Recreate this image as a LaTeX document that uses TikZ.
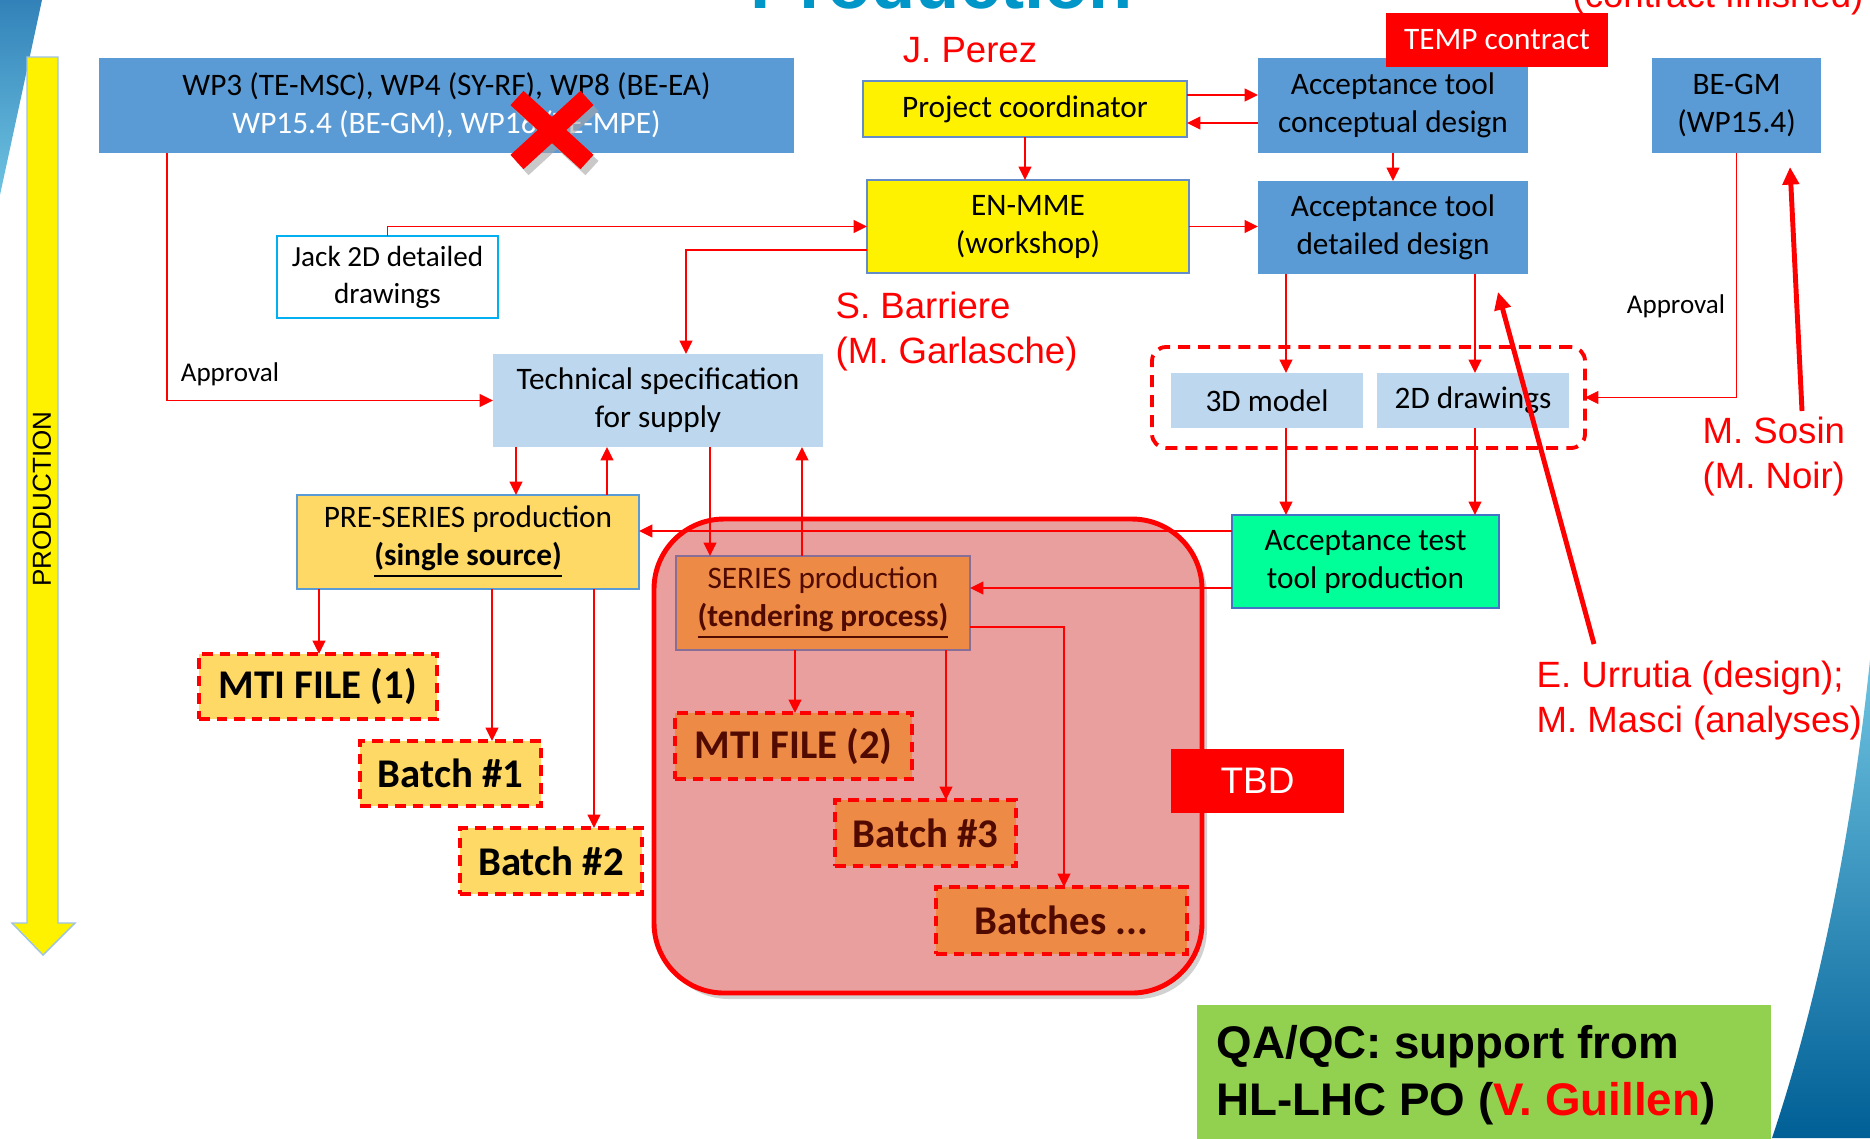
\documentclass[tikz,border=0pt]{standalone}
\usepackage{fontspec}
\setmainfont{Carlito}
\newfontfamily\arialf{Liberation Sans}
\usetikzlibrary{fit,arrows.meta}
\definecolor{cBlue}{RGB}{91,155,213}
\definecolor{cLight}{RGB}{189,215,238}
\definecolor{cYelB}{RGB}{100,140,200}
\definecolor{cPre}{RGB}{255,217,102}
\definecolor{cZone}{RGB}{234,159,159}
\definecolor{cOr}{RGB}{236,138,70}
\definecolor{cOrB}{RGB}{135,110,150}
\definecolor{cMaroon}{RGB}{80,10,0}
\definecolor{cGreen}{RGB}{0,255,153}
\definecolor{cGreenB}{RGB}{68,114,196}
\definecolor{cQA}{RGB}{146,208,80}
\definecolor{cJack}{RGB}{0,176,240}
\definecolor{cTitle}{RGB}{0,150,200}
\definecolor{cArrB}{RGB}{157,195,230}
\definecolor{cSwA}{RGB}{50,130,185}
\definecolor{cSwB}{RGB}{110,195,225}
\definecolor{cSwC}{RGB}{0,95,150}
\newcommand\bxf{\fontsize{8.9}{10.8}\selectfont}
\newcommand\bigf{\fontsize{11.6}{13}\selectfont\bfseries}
\newcommand\namef{\arialf\fontsize{10.4}{12.8}\selectfont}
% box node: [style]{name}{x1}{y1}{x2}{y2}{text}
\newcommand\bxn[7][]{%
  \pgfmathsetmacro\bxCX{(#3+#5)/2}%
  \pgfmathsetmacro\bxCY{(#4+#6)/2}%
  \pgfmathsetmacro\bxW{(#5-#3)*0.01}%
  \pgfmathsetmacro\bxH{(#6-#4)*0.01}%
  \node[#1, minimum width=\bxW cm, minimum height=\bxH cm] (#2) at (\bxCX,\bxCY) {#7};}
\begin{document}
\begin{tikzpicture}[x=0.01cm, y=-0.01cm,
  bx/.style={inner sep=0pt, outer sep=0pt, align=center, font=\bxf},
  bluebox/.style={bx, fill=cBlue},
  lightbox/.style={bx, fill=cLight},
  yelbox/.style={bx, fill=yellow, draw=cYelB, line width=0.6pt},
  prebox/.style={bx, fill=cPre, draw=cBlue, line width=0.6pt},
  serbox/.style={bx, fill=cOr, draw=cOrB, line width=0.6pt, text=cMaroon},
  greenbox/.style={bx, fill=cGreen, draw=cGreenB, line width=0.6pt},
  redbox/.style={bx, fill=red, text=white},
  dashbox/.style={inner sep=0pt, outer sep=0pt, align=center, font=\bigf, draw=red, line width=1.1pt, dash pattern=on 3pt off 2pt},
  conn/.style={draw=red, line width=0.55pt, -{Triangle[length=3.8pt,width=3.6pt]}},
  annot/.style={draw=red, line width=1.4pt, -{Triangle[length=5pt,width=4.6pt]}},
  lbl/.style={font=\fontsize{7.7}{9}\selectfont},
  redname/.style={font=\namef, text=red, align=left, inner sep=0pt},
]
\clip (0,0) rectangle (1870,1138);
\fill[white] (0,0) rectangle (1870,1138);

% slide decorations
\shade[top color=cSwA, bottom color=cSwB] (0,0) -- (42,0) -- (0,195) -- cycle;
\shade[top color=cSwB, bottom color=cSwC] (1870,660) .. controls (1850,850) and (1815,1010) .. (1772,1138) -- (1870,1138) -- cycle;
\node[anchor=base, font=\arialf\bfseries\fontsize{20.6}{24}\selectfont, text=cTitle, inner sep=0pt] (title) at (942,8) {Production};
\node[anchor=base, redname] (cfin) at (1718,7) {(contract finished)};

% production arrow
\draw[fill=yellow, draw=cArrB, line width=0.4pt] (27,57) -- (58,57) -- (58,923) -- (75,923) -- (43,955) -- (12,923) -- (27,923) -- cycle;
\node[rotate=90, font=\arialf\fontsize{7.4}{9}\selectfont] (prod) at (42,499) {PRODUCTION};

% TBD zone
\fill[black!40, opacity=0.45, rounded corners=0.7cm] (659,525) rectangle (1207,999);
\node[fit={(654,519) (1202,993)}, inner sep=0pt, outer sep=0pt, draw=red, line width=1.4pt, fill=cZone, rounded corners=0.7cm] (zone) {};

% boxes
\bxn[bluebox]{wp}{99}{58}{794}{153}{WP3 (TE-MSC), WP4 (SY-RF), WP8 (BE-EA)\\\textcolor{white}{WP15.4 (BE-GM), WP16 (TE-MPE)}}
\bxn[yelbox]{pc}{863}{81}{1187}{137}{Project coordinator}
\bxn[bluebox]{acd}{1258}{58}{1528}{153}{Acceptance tool\\conceptual design}
\bxn[redbox]{temp}{1386}{13}{1608}{67}{TEMP contract}
\bxn[bluebox]{begm}{1652}{58}{1821}{153}{BE-GM\\(WP15.4)}
\bxn[yelbox]{enmme}{867}{180}{1189}{273}{EN-MME\\(workshop)}
\bxn[bluebox]{add}{1258}{181}{1528}{274}{Acceptance tool\\detailed design}
\bxn[bx, fill=white, draw=cJack, line width=0.8pt, font=\fontsize{8.3}{10.5}\selectfont]{jack}{277}{236}{498}{318}{Jack 2D detailed\\drawings}
\bxn[lightbox]{tech}{493}{354}{823}{447}{Technical specification\\for supply}
\node[fit={(1152,347) (1585,448)}, inner sep=0pt, outer sep=0pt, draw=red, line width=1.1pt, dash pattern=on 3.4pt off 2.3pt, rounded corners=0.14cm] (grp) {};
\bxn[lightbox]{m3d}{1171}{373}{1363}{428}{3D model}
\bxn[lightbox]{d2d}{1377}{373}{1569}{428}{2D drawings}
\bxn[prebox]{pre}{297}{495}{639}{589}{PRE-SERIES production\\\underline{\textbf{(single source)}}}
\bxn[serbox]{ser}{676}{556}{970}{650}{SERIES production\\\underline{\textbf{(tendering process)}}}
\bxn[greenbox]{att}{1232}{515}{1499}{608}{Acceptance test\\tool production}
\bxn[redbox, font=\arialf\fontsize{10.5}{12}\selectfont]{tbd}{1171}{749}{1344}{813}{TBD}
\bxn[dashbox, fill=cPre]{mti1}{199}{654}{437}{719}{MTI FILE (1)}
\bxn[dashbox, fill=cPre]{b1}{360}{741}{541}{806}{Batch \#1}
\bxn[dashbox, fill=cPre]{b2}{460}{828}{642}{894}{Batch \#2}
\bxn[dashbox, fill=cOr, text=cMaroon]{mti2}{675}{713}{912}{779}{MTI FILE (2)}
\bxn[dashbox, fill=cOr, text=cMaroon]{b3}{835}{800}{1016}{866}{Batch \#3}
\bxn[dashbox, fill=cOr, text=cMaroon]{bs}{936}{887}{1187}{954}{Batches ...}
\node[fit={(1197,1005) (1771,1150)}, inner sep=0pt, fill=cQA] (qa) {};
\node[anchor=west, align=left, inner sep=0pt, font=\arialf\bfseries\fontsize{13}{16.2}\selectfont] (qatext) at (1216,1075) {QA/QC: support from\\HL-LHC PO (\textcolor{red}{V. Guillen})};

% labels
\node[lbl] (appl) at (230,374) {Approval};
\node[lbl] (appr) at (1676,306) {Approval};
\node[redname, anchor=center] (perez) at (970,50) {J. Perez};
\node[redname, anchor=west] (barriere) at (835,332) {S. Barriere\\(M. Garlasche)};
\node[redname, anchor=west] (sosin) at (1702,457) {M. Sosin\\(M. Noir)};
\node[redname, anchor=west] (urrutia) at (1536,701) {E. Urrutia (design);\\M. Masci (analyses)};

% helper coordinates
\foreach \xx in {167,319,492,516,594,607,686,710,795,802,946,1064,1286,1475}
  {\coordinate (X\xx) at (\xx,0);}
\foreach \yy in {95,123,250,531,588,627}
  {\coordinate (Y\yy) at (0,\yy);}

% connectors
\draw[conn] (X167 |- wp.south) |- (tech.west);
\draw[conn] (jack.north) |- (enmme.west);
\draw[conn] (enmme.west |- Y250) -| (X686 |- tech.north);
\draw[conn] (pc.south) -- (pc.south |- enmme.north);
\draw[conn] (pc.east |- Y95) -- (acd.west |- Y95);
\draw[conn] (acd.west |- Y123) -- (pc.east |- Y123);
\draw[conn] (acd.south) -- (acd.south |- add.north);
\draw[conn] (enmme.east) -- (enmme.east -| add.west);
\draw[conn] (X1286 |- add.south) -- (X1286 |- m3d.north);
\draw[conn] (X1475 |- add.south) -- (X1475 |- d2d.north);
\draw[conn] (begm.south) |- (grp.east);
\draw[conn] (X1286 |- m3d.south) -- (X1286 |- att.north);
\draw[conn] (X1475 |- d2d.south) -- (X1475 |- att.north);
\draw[conn] (X516 |- tech.south) -- (X516 |- pre.north);
\draw[conn] (X607 |- pre.north) -- (X607 |- tech.south);
\draw[conn] (X710 |- tech.south) -- (X710 |- ser.north);
\draw[conn] (X802 |- ser.north) -- (X802 |- tech.south);
\draw[conn] (att.west |- Y531) -- (pre.east |- Y531);
\draw[conn] (att.west |- Y588) -- (ser.east |- Y588);
\draw[conn] (X319 |- pre.south) -- (X319 |- mti1.north);
\draw[conn] (X492 |- pre.south) -- (X492 |- b1.north);
\draw[conn] (X594 |- pre.south) -- (X594 |- b2.north);
\draw[conn] (X795 |- ser.south) -- (X795 |- mti2.north);
\draw[conn] (X946 |- ser.south) -- (X946 |- b3.north);
\draw[conn] (ser.east |- Y627) -| (X1064 |- bs.north);

% annotation arrows
\coordinate (sosinTail) at (1802,411);
\coordinate (sosinTip) at (1790,167);
\coordinate (urrTail) at (1594,644);
\coordinate (urrTip) at (1498,292);
\draw[annot] (sosinTail) -- (sosinTip);
\draw[annot] (urrTail) -- (urrTip);

% red cross
\draw[line width=5.5pt, black!35, opacity=0.6] (522,104) -- (592,168) (522,168) -- (592,104);
\draw[line width=5.5pt, red] (517,98) -- (587,162) (517,162) -- (587,98);
\end{tikzpicture}
\end{document}
